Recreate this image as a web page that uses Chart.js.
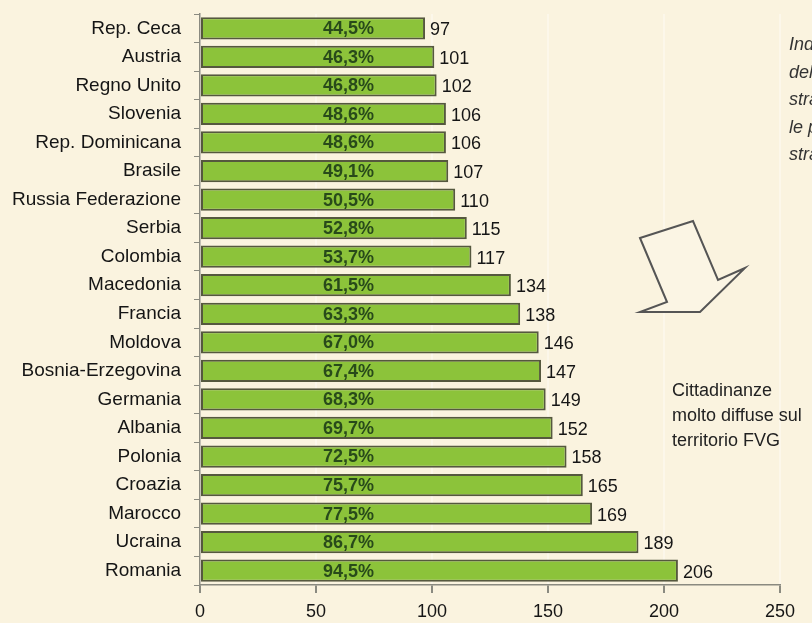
<!DOCTYPE html>
<html>
<head>
<meta charset="utf-8">
<script src="https://cdn.jsdelivr.net/npm/chart.js@4"></script>
<style>
  html, body { margin: 0; padding: 0; background: #faf3df; }
  #wrap { width: 812px; height: 623px; position: relative; }
</style>
</head>
<body>
<div id="wrap"><canvas id="chart"></canvas></div>
<script>
// Cittadinanze, dal basso verso l'alto nell'originale
const paesi = ['Rep. Ceca', 'Austria', 'Regno Unito', 'Slovenia', 'Rep. Dominicana', 'Brasile',
  'Russia Federazione', 'Serbia', 'Colombia', 'Macedonia', 'Francia', 'Moldova',
  'Bosnia-Erzegovina', 'Germania', 'Albania', 'Polonia', 'Croazia', 'Marocco', 'Ucraina', 'Romania'];
const valori = [97, 101, 102, 106, 106, 107, 110, 115, 117, 134, 138, 146, 147, 149, 152, 158, 165, 169, 189, 206];
const percentuali = [44.5, 46.3, 46.8, 48.6, 48.6, 49.1, 50.5, 52.8, 53.7, 61.5, 63.3, 67.0, 67.4, 68.3, 69.7, 72.5, 75.7, 77.5, 86.7, 94.5];
const tickX = [0, 50, 100, 150, 200, 250];

const noteCorsivo = ['Indice di vecchiaia', 'della popolazione', 'straniera residente per', 'le principali cittadinanze', 'straniere'];
const noteFVG = ['Cittadinanze', 'molto diffuse sul', 'territorio FVG'];

const FONT = "'Liberation Sans', Arial, sans-serif";

// etichette sulle barre + freccia e testi a destra
const etichette = {
  id: 'etichette',
  afterDatasetsDraw(chart) {
    const ctx = chart.ctx;
    const xs = chart.scales.x;
    const meta = chart.getDatasetMeta(0);
    ctx.save();
    ctx.textBaseline = 'middle';
    meta.data.forEach((bar, i) => {
      ctx.font = '18px ' + FONT;
      ctx.fillStyle = '#151515';
      ctx.textAlign = 'left';
      ctx.fillText(String(valori[i]), bar.x + 5, bar.y + 2);
      ctx.font = 'bold 18px ' + FONT;
      ctx.fillStyle = '#284a1a';
      ctx.textAlign = 'center';
      ctx.fillText(percentuali[i].toFixed(1).replace('.', ',') + '%', xs.getPixelForValue(64), bar.y + 1);
    });

    // freccia vuota
    ctx.beginPath();
    ctx.moveTo(640, 238);
    ctx.lineTo(693, 221);
    ctx.lineTo(718, 280);
    ctx.lineTo(745, 268);
    ctx.lineTo(700, 312);
    ctx.lineTo(640, 312);
    ctx.lineTo(667, 302);
    ctx.closePath();
    ctx.fillStyle = '#fbf5e4';
    ctx.fill();
    ctx.strokeStyle = '#555';
    ctx.lineWidth = 2;
    ctx.stroke();

    ctx.fillStyle = '#222';
    ctx.textAlign = 'left';
    ctx.font = '18px ' + FONT;
    noteFVG.forEach((t, i) => ctx.fillText(t, 672, 391 + i * 25));

    ctx.fillStyle = '#333';
    ctx.font = "italic 18px 'Liberation Sans Narrow', 'Liberation Sans', sans-serif";
    noteCorsivo.forEach((t, i) => ctx.fillText(t, 789, 45 + i * 27.5));
    ctx.restore();
  }
};

new Chart(document.getElementById('chart').getContext('2d'), {
  type: 'bar',
  data: {
    labels: paesi,
    datasets: [{
      data: valori,
      backgroundColor: '#8cc33a',
      borderColor: '#55583e',
      borderWidth: 2,
      borderSkipped: false,
      barPercentage: 0.78,
      categoryPercentage: 1
    }]
  },
  options: {
    indexAxis: 'y',
    responsive: true,
    maintainAspectRatio: false,
    animation: false,
    layout: { padding: { top: 14, right: 32, left: 0, bottom: 0 } },
    plugins: { legend: { display: false }, tooltip: { enabled: false } },
    scales: {
      x: {
        min: 0,
        max: 250,
        afterBuildTicks: s => { s.ticks = tickX.map(v => ({ value: v })); },
        afterFit: s => { s.height = 38; },
        grid: { color: 'rgba(255,255,255,0.35)', lineWidth: 2, tickColor: '#8a8a80', tickLength: 8 },
        border: { color: '#8a8a80', width: 1.5 },
        ticks: { color: '#151515', font: { family: FONT, size: 18 }, padding: 8 }
      },
      y: {
        afterFit: s => { s.width = 200; s.paddingTop = 0; s.paddingBottom = 0; },
        grid: { offset: true, drawOnChartArea: false, tickLength: 6, color: '#8a8a80' },
        border: { color: '#8a8a80', width: 1.5 },
        ticks: { color: '#151515', font: { family: FONT, size: 19 }, padding: 13 }
      }
    }
  },
  plugins: [etichette]
});
</script>
</body>
</html>
